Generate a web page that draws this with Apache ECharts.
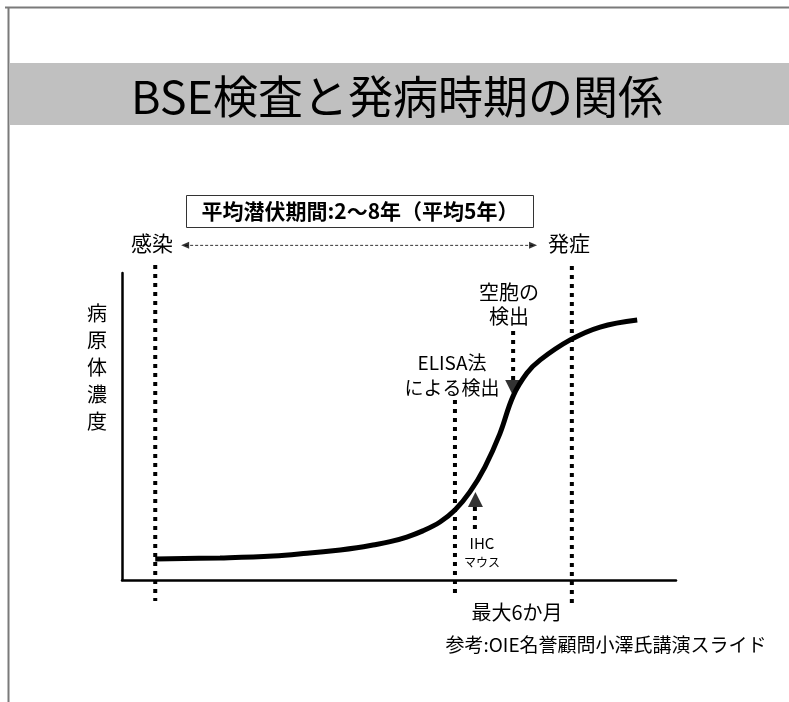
<!DOCTYPE html>
<html>
<head>
<meta charset="utf-8">
<script src="https://cdn.jsdelivr.net/npm/echarts@6/dist/echarts.min.js"></script>
<style>
html,body{margin:0;padding:0;background:#fff;}
#chart{width:789px;height:702px;}
</style>
</head>
<body>
<div id="chart"></div>
<script>
// ---- data (arbitrary units: time 0-100, concentration 0-100) ----
const curveX = [6.0, 17.7, 27.3, 33.4, 39.4, 42.4, 45.3, 48.4, 51.4, 54.3, 57.4, 60.1, 62.8, 65.5, 68.2, 70.6, 73.1, 75.5, 80.9, 86.3, 93.0];
const curveY = [6.8, 7.2, 7.8, 8.7, 9.8, 10.5, 11.4, 12.5, 14.0, 16.0, 18.9, 22.8, 28.7, 36.8, 47.6, 59.9, 67.4, 71.7, 78.2, 82.4, 84.7];

// vertical dotted guide lines: 感染, ELISA法, 発症
const guideX = [6.0, 60.1, 81.2];
const guideTop = [102.6, 58.6, 102.3];
const guideBottom = [-6.8, -5.9, -7.5];

// detection arrows: 空胞の検出 (down), IHC マウス (up)
const arrowX = [70.6, 63.7];
const arrowStemFrom = [81.1, 23.8];
const arrowStemTo = [65.1, 16.6];
const arrowHeadX = [70.7, 63.8];
const arrowHeadY = [62.4, 26.2];
const arrowHeadRotate = [180, 0];

// incubation span arrow (感染 -> 発症)
const spanY = 109.0;
const spanFrom = 11.4;
const spanTo = 74.2;

// texts
const titleText = 'BSE検査と発病時期の関係';
const incubationText = '平均潜伏期間:2～8年（平均5年）';
const startLabel = '感染';
const onsetLabel = '発症';
const yAxisName = '病原体濃度';
const vacuoleLabel = '空胞の\n検出';
const elisaLabel = 'ELISA法\nによる検出';
const ihcLabel = 'IHC';
const mouseLabel = 'マウス';
const maxLabel = '最大6か月';
const sourceLabel = '参考:OIE名誉顧問小澤氏講演スライド';

const FONT = '"Noto Sans CJK JP", "Liberation Sans", sans-serif';

const chart = echarts.init(document.getElementById('chart'), null, {renderer: 'canvas'});

const series = [];
guideX.forEach((x, i) => {
  series.push({
    type: 'line', clip: false, symbol: 'none', silent: true, z: 2,
    data: [[x, guideTop[i]], [x, guideBottom[i]]],
    lineStyle: {color: '#000', width: 4, type: [4, 5], cap: 'butt'}
  });
});
arrowX.forEach((x, i) => {
  series.push({
    type: 'line', clip: false, symbol: 'none', silent: true, z: 2,
    data: [[x, arrowStemFrom[i]], [x, arrowStemTo[i]]],
    lineStyle: {color: '#000', width: 4, type: [4, 5], cap: 'butt'}
  });
});
series.push({
  type: 'scatter', clip: false, silent: true, z: 4,
  symbol: 'triangle',
  data: arrowHeadX.map((x, i) => ({value: [x, arrowHeadY[i]], symbolRotate: arrowHeadRotate[i], symbolSize: i === 0 ? [17, 17] : [15, 15]})),
  itemStyle: {color: '#000'}
});
series.push({
  type: 'line', clip: false, symbol: 'none', silent: true, z: 2,
  data: [[spanFrom, spanY], [spanTo, spanY]],
  lineStyle: {color: '#333', width: 1, type: [3, 2]}
});
series.push({
  type: 'scatter', clip: false, silent: true, z: 4,
  symbol: 'triangle', symbolSize: [7, 8],
  data: [{value: [spanFrom, spanY], symbolRotate: 90}, {value: [spanTo, spanY], symbolRotate: -90}],
  itemStyle: {color: '#000'}
});
series.push({
  type: 'line', clip: false, symbol: 'none', silent: true, z: 5,
  smooth: 0.4,
  data: curveX.map((x, i) => [x, curveY[i]]),
  lineStyle: {color: '#000', width: 5}
});

function txt(x, y, text, size, extra) {
  return {
    type: 'text', x: x, y: y, silent: true, z: 10,
    style: Object.assign({
      text: text, fill: '#000', fontFamily: FONT, fontSize: size,
      align: 'center', verticalAlign: 'middle'
    }, extra || {})
  };
}

const option = {
  animation: false,
  backgroundColor: '#fff',
  grid: {left: 122, top: 273, width: 554, height: 307, containLabel: false},
  xAxis: {
    type: 'value', min: 0, max: 100,
    axisLine: {show: true, onZero: false, lineStyle: {color: '#000', width: 2.5}},
    axisTick: {show: false}, axisLabel: {show: false}, splitLine: {show: false}
  },
  yAxis: {
    type: 'value', min: 0, max: 100,
    axisLine: {show: true, onZero: false, lineStyle: {color: '#000', width: 2.5}},
    axisTick: {show: false}, axisLabel: {show: false}, splitLine: {show: false}
  },
  series: series,
  graphic: [
    {type: 'line', silent: true, shape: {x1: 5, y1: 7.5, x2: 789, y2: 7.5}, style: {stroke: '#7a7a7a', lineWidth: 2}},
    {type: 'line', silent: true, shape: {x1: 8.5, y1: 7, x2: 8.5, y2: 702}, style: {stroke: '#7a7a7a', lineWidth: 2}},
    {type: 'rect', silent: true, shape: {x: 9.5, y: 63, width: 780, height: 62}, style: {fill: '#c0c0c0'}},
    txt(397, 97, titleText, 45),
    {type: 'rect', silent: true, shape: {x: 186.5, y: 195.5, width: 347, height: 32}, style: {fill: 'none', stroke: '#333', lineWidth: 1}},
    txt(360, 211, incubationText, 21, {fontWeight: 'bold'}),
    txt(152, 243, startLabel, 21),
    txt(569, 243, onsetLabel, 21),
    txt(97, 367, yAxisName.split('').join('\n'), 20, {lineHeight: 27}),
    txt(509, 304, vacuoleLabel, 20, {lineHeight: 24}),
    txt(452, 375, elisaLabel, 19, {lineHeight: 25}),
    txt(482, 543, ihcLabel, 15),
    txt(482, 562, mouseLabel, 12),
    txt(517, 612, maxLabel, 20),
    txt(606, 645, sourceLabel, 19)
  ]
};
chart.setOption(option);
</script>
</body>
</html>
